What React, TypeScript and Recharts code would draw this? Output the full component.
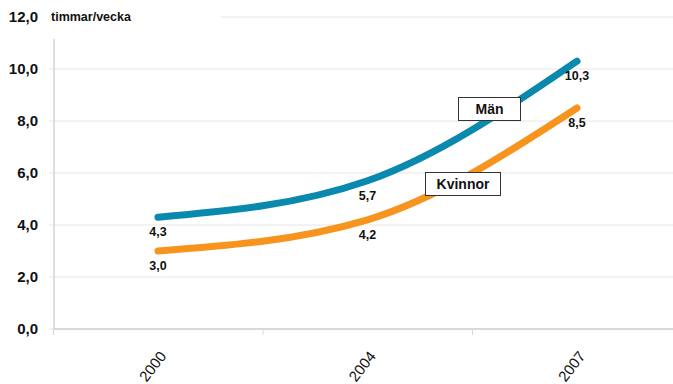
import { LineChart, Line, XAxis, YAxis, CartesianGrid, LabelList } from 'recharts';

const years = ['2000', '2004', '2007'];
const man = [4.3, 5.7, 10.3];
const kvinnor = [3.0, 4.2, 8.5];
const yTicks = [0, 2, 4, 6, 8, 10, 12];

const data = years.map((year, i) => ({ year, man: man[i], kvinnor: kvinnor[i] }));

const FONT = '"Liberation Sans", Arial, Helvetica, sans-serif';
const BLUE = '#0a89ae';
const ORANGE = '#f7941d';
const PLOT_W = 627;

const fmt = (v: number) => v.toFixed(1).replace('.', ',');

// year label plus a faint tick at the left edge of each category band
function YearTick({ x, y, payload }: { x?: number; y?: number; payload?: { value: string } }) {
  const cx = x ?? 0;
  const cy = y ?? 0;
  const half = PLOT_W / years.length / 2;
  return (
    <g>
      <line x1={cx - half} x2={cx - half} y1={cy - 8} y2={cy - 2} stroke="#d8d8d8" />
      <g transform={`translate(${cx + 6},${cy + 17})`}>
        <text
          transform="rotate(-52)"
          textAnchor="end"
          dominantBaseline="middle"
          fontFamily={FONT}
          fontSize={15}
          fill="#111"
        >
          {payload?.value}
        </text>
      </g>
    </g>
  );
}

const boxStyle = {
  position: 'absolute' as const,
  background: '#fff',
  border: '1px solid #333',
  fontFamily: FONT,
  fontWeight: 700,
  fontSize: 14,
  color: '#111',
  display: 'flex',
  alignItems: 'center',
  justifyContent: 'center',
  boxSizing: 'border-box' as const,
};

export default function App() {
  return (
    <div style={{ position: 'fixed', left: 0, top: 0, width: 673, height: 384, overflow: 'hidden', background: '#fff' }}>
      <LineChart width={690} height={384} data={data} margin={{ top: 17, right: 9, bottom: 0, left: 0 }}>
        <CartesianGrid vertical={false} stroke="#e6e6e6" />
        <XAxis
          dataKey="year"
          height={55}
          padding={{ left: 104, right: 104 }}
          axisLine={{ stroke: '#bdbdbd' }}
          tickLine={false}
          tick={<YearTick />}
          interval={0}
        />
        <YAxis
          width={54}
          domain={[0, 12]}
          ticks={yTicks}
          tickFormatter={fmt}
          axisLine={{ stroke: '#bdbdbd' }}
          tickLine={{ stroke: '#e6e6e6' }}
          tickSize={5}
          tickMargin={11}
          tick={{ fontFamily: FONT, fontSize: 15, fontWeight: 700, fill: '#111' }}
        />
        <Line
          dataKey="man"
          type="monotone"
          stroke={BLUE}
          strokeWidth={7}
          strokeLinecap="round"
          dot={false}
          isAnimationActive={false}
        >
          <LabelList
            dataKey="man"
            position="bottom"
            offset={10}
            formatter={(v: number) => fmt(v)}
            style={{ fontFamily: FONT, fontSize: 12.5, fontWeight: 700, fill: '#111' }}
          />
        </Line>
        <Line
          dataKey="kvinnor"
          type="monotone"
          stroke={ORANGE}
          strokeWidth={7}
          strokeLinecap="round"
          dot={false}
          isAnimationActive={false}
        >
          <LabelList
            dataKey="kvinnor"
            position="bottom"
            offset={10}
            formatter={(v: number) => fmt(v)}
            style={{ fontFamily: FONT, fontSize: 12.5, fontWeight: 700, fill: '#111' }}
          />
        </Line>
      </LineChart>

      {/* unit label, covers the top gridline and the top of the axis line */}
      <div
        style={{
          position: 'absolute',
          left: 51,
          top: 8,
          width: 170,
          height: 18,
          background: '#fff',
          fontFamily: FONT,
          fontWeight: 700,
          fontSize: 12.5,
          color: '#111',
          lineHeight: '18px',
        }}
      >
        timmar/vecka
      </div>
      <div style={{ position: 'absolute', left: 51, top: 26, width: 6, height: 13, background: '#fff' }} />

      <div style={{ ...boxStyle, left: 458, top: 97, width: 63, height: 24 }}>Män</div>
      <div style={{ ...boxStyle, left: 425, top: 172, width: 76, height: 24 }}>Kvinnor</div>
    </div>
  );
}
